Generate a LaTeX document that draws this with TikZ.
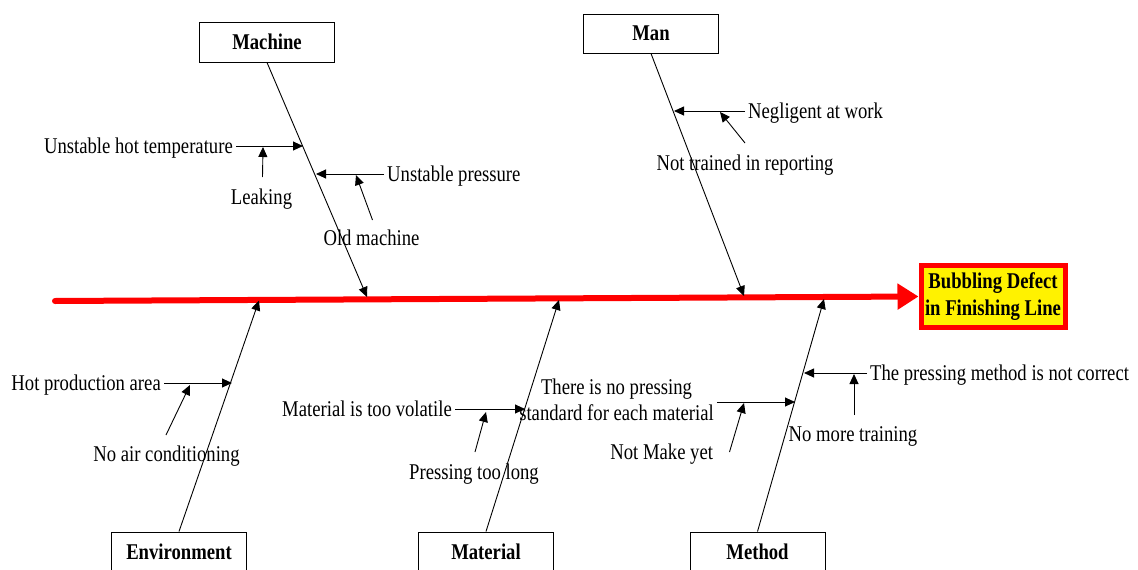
\documentclass[tikz,border=0pt]{standalone}
\usepackage{fontspec}
\setmainfont{Liberation Serif}[FakeStretch=0.83]
\usetikzlibrary{arrows.meta}
\begin{document}
\begin{tikzpicture}[x=1pt,y=-1pt,
  box/.style={draw, line width=1pt, minimum width=135pt, minimum height=40pt, inner sep=0pt, font=\fontsize{22.5}{26}\selectfont\bfseries},
  lbl/.style={inner sep=1pt, font=\fontsize{22.5}{26}\selectfont},
  cause/.style={lbl, text height=17pt, text depth=3pt},
  bone/.style={line width=0.9pt, -{Triangle[length=10pt,width=9pt]}},
  arr/.style={line width=0.9pt, -{Triangle[length=10pt,width=9pt]}},
  harr/.style={arr, shorten <=2pt},
  spine/.style={draw=red, line width=6pt, line cap=round, -{Triangle[length=21pt,width=25pt]}},
  effect/.style={draw=red, fill=yellow, line width=5pt, minimum width=144pt, minimum height=62pt, inner sep=0pt, align=center, font=\fontsize{22.5}{27}\selectfont\bfseries}
]
\useasboundingbox (0,0) rectangle (1138,570);
\clip (0,0) rectangle (1138,570);

% category boxes and effect
\node[box] (machine) at (267,42) {Machine};
\node[box, minimum height=39pt] (man) at (651,33.5) {Man};
\node[box] (env) at (179,552) {Environment};
\node[box] (mat) at (486,552) {Material};
\node[box] (meth) at (757.5,552) {Method};
\node[effect] (eff) at (993,296.5) {Bubbling Defect\\in Finishing Line};

% main spine
\coordinate (tail) at (55,301);
\draw[spine] (tail) -- (eff.west);

% bones
\coordinate (mtip) at (367,297);
\coordinate (ntip) at (744,296);
\coordinate (etip) at (259,300.5);
\coordinate (ltip) at (559,300);
\coordinate (dtip) at (824,299);
\draw[bone] (machine.south) -- (mtip);
\draw[bone] (man.south) -- (ntip);
\draw[bone] (env.north) -- (etip);
\draw[bone] (mat.north) -- (ltip);
\draw[bone] (meth.north) -- (dtip);

% Machine causes
\node[cause, anchor=east] (c1) at (234,146) {Unstable hot temperature};
\coordinate (p1) at (303,146);
\draw[harr] (c1.east) -- (p1);
\node[cause] (c2) at (261.5,197) {Leaking};
\coordinate (q2a) at (262.5,177);
\coordinate (q2b) at (263,147);
\draw[arr] (q2a) -- (q2b);
\node[cause, anchor=west] (c3) at (386,174) {Unstable pressure};
\coordinate (p3) at (316,174);
\draw[harr] (c3.west) -- (p3);
\node[cause] (c4) at (371.5,238) {Old machine};
\coordinate (q4a) at (372.5,220);
\coordinate (q4b) at (356,175);
\draw[arr] (q4a) -- (q4b);

% Man causes
\node[cause, anchor=west] (c5) at (747,111) {Negligent at work};
\coordinate (p5) at (674,111);
\draw[harr] (c5.west) -- (p5);
\node[cause] (c6) at (745,163) {Not trained in reporting};
\coordinate (q6a) at (745,143);
\coordinate (q6b) at (720,112);
\draw[arr] (q6a) -- (q6b);

% Environment causes
\node[cause, anchor=east] (c7) at (162,383) {Hot production area};
\coordinate (p7) at (232,383);
\draw[harr] (c7.east) -- (p7);
\node[cause] (c8) at (166.5,454) {No air conditioning};
\coordinate (q8a) at (166,435);
\coordinate (q8b) at (190,385);
\draw[arr] (q8a) -- (q8b);

% Material causes
\node[cause, anchor=east] (c9) at (453,409) {Material is too volatile};
\coordinate (p9) at (525,409);
\draw[harr] (c9.east) -- (p9);
\node[cause] (c10) at (474,472) {Pressing too long};
\coordinate (q10a) at (475,452);
\coordinate (q10b) at (486,412);
\draw[arr] (q10a) -- (q10b);

% Method causes
\node[lbl, align=center] (c11) at (616.5,400) {There is no pressing\\standard for each material};
\coordinate (p11) at (795,402);
\draw[harr] (c11.east |- p11) -- (p11);
\node[cause] (c12) at (661.7,452) {Not Make yet};
\coordinate (q12a) at (729.5,452);
\coordinate (q12b) at (744,403);
\draw[arr] (q12a) -- (q12b);
\node[cause, anchor=west] (c13) at (869,373) {The pressing method is not correct};
\coordinate (p13) at (804,373);
\draw[harr] (c13.west) -- (p13);
\node[cause] (c14) at (853,434) {No more training};
\coordinate (q14a) at (854,415);
\coordinate (q14b) at (854,374);
\draw[arr] (q14a) -- (q14b);
\end{tikzpicture}
\end{document}
